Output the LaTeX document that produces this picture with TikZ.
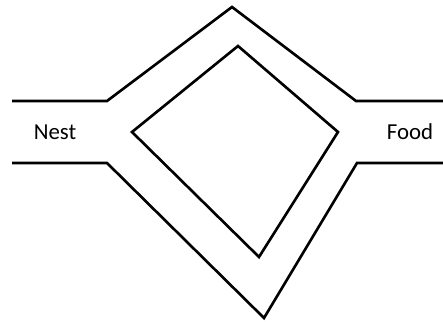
\documentclass[tikz,border=0pt]{standalone}
\usepackage{fontspec}
\setmainfont{Carlito}
\usepackage{tikz}
\usetikzlibrary{positioning}

\tikzset{path/.style={line width=1.5pt, line join=miter}}

\begin{document}
\begin{tikzpicture}
\useasboundingbox (0,0) rectangle (8.86,6.44);
% outer track
\coordinate (ul) at (0.24,4.42);
\coordinate (ua) at (2.14,4.42);
\coordinate (top) at (4.64,6.30);
\coordinate (ub) at (7.12,4.42);
\coordinate (ur) at (8.86,4.42);
\coordinate (ll) at (0.24,3.18);
\coordinate (la) at (2.14,3.18);
\coordinate (bot) at (5.28,0.08);
\coordinate (lb) at (7.14,3.18);
\coordinate (lr) at (8.86,3.18);
\draw[path] (ul) -- (ua) -- (top) -- (ub) -- (ur);
\draw[path] (ll) -- (la) -- (bot) -- (lb) -- (lr);
% inner island
\coordinate (it) at (4.76,5.52);
\coordinate (il) at (2.64,3.80);
\coordinate (ir) at (6.76,3.80);
\coordinate (ib) at (5.18,1.30);
\draw[path] (it) -- (ir) -- (ib) -- (il) -- cycle;
\node[font=\fontsize{13}{15}\selectfont] at (1.10,3.80) (nest) {Nest};
\node[font=\fontsize{13}{15}\selectfont] at (8.20,3.80) (food) {Food};
\end{tikzpicture}
\end{document}
